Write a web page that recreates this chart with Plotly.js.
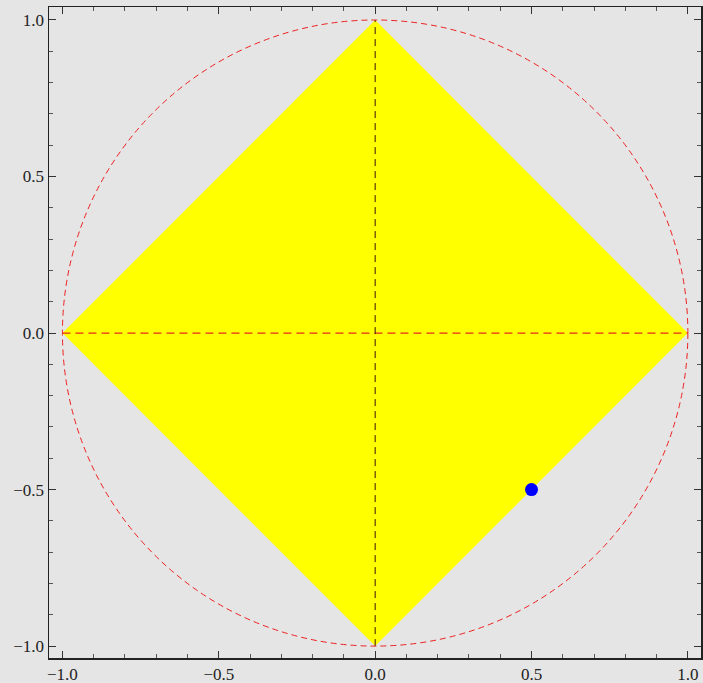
<!DOCTYPE html>
<html>
<head>
<meta charset="utf-8">
<script src="https://cdn.plot.ly/plotly-3.0.1.min.js"></script>
<style>html,body{margin:0;padding:0;background:#e5e5e5;}</style>
</head>
<body>
<div id="chart" style="width:703px;height:683px;"></div>
<script>
// Diamond (unit L1 ball) vertices
const diamondX = [-1, 0, 1, 0, -1];
const diamondY = [0, 1, 0, -1, 0];
// Axis reference lines
const hLineX = [-1, 1];
const hLineY = [0, 0];
const vLineX = [0, 0];
const vLineY = [-1, 1];
// Unit circle radius
const circleRadius = 1;
// Highlighted point
const pointX = [0.5];
const pointY = [-0.5];
// Ticks
const tickVals = [-1.0, -0.5, 0.0, 0.5, 1.0];
const tickText = ['\u22121.0', '\u22120.5', '0.0', '0.5', '1.0'];

const traces = [
  {x: diamondX, y: diamondY, type: 'scatter', mode: 'lines', fill: 'toself',
   fillcolor: '#ffff00', line: {width: 0}, hoverinfo: 'skip'},
  {x: hLineX, y: hLineY, type: 'scatter', mode: 'lines',
   line: {color: '#e8281e', width: 1.2, dash: '8px,5px'}},
  {x: vLineX, y: vLineY, type: 'scatter', mode: 'lines',
   line: {color: '#3a1410', width: 1, dash: '7px,5px'}},
  {x: pointX, y: pointY, type: 'scatter', mode: 'markers',
   marker: {color: '#0000ff', size: 13}}
];

const axisCommon = {
  tickvals: tickVals, ticktext: tickText,
  ticks: 'inside', ticklen: 7, tickwidth: 1, tickcolor: '#333',
  minor: {dtick: 0.1, ticks: 'inside', ticklen: 4, tickwidth: 1, tickcolor: '#555', showgrid: false},
  showgrid: false, zeroline: false,
  showline: true, linecolor: '#222', linewidth: 1.5, mirror: 'allticks',
  tickfont: {family: 'Liberation Serif', size: 17, color: '#222'}
};

const layout = {
  width: 703, height: 683,
  margin: {l: 49, r: 2, t: 7, b: 25},
  paper_bgcolor: '#e5e5e5', plot_bgcolor: '#e5e5e5',
  showlegend: false,
  xaxis: Object.assign({}, axisCommon, {range: [-1.043, 1.042]}),
  yaxis: Object.assign({}, axisCommon, {range: [-1.038, 1.0415]}),
  shapes: [
    {type: 'circle', xref: 'x', yref: 'y',
     x0: -circleRadius, x1: circleRadius, y0: -circleRadius, y1: circleRadius,
     line: {color: '#ee2020', width: 1, dash: '6px,4px'}, layer: 'above'}
  ]
};

Plotly.newPlot('chart', traces, layout, {displayModeBar: false, staticPlot: true});
</script>
</body>
</html>
